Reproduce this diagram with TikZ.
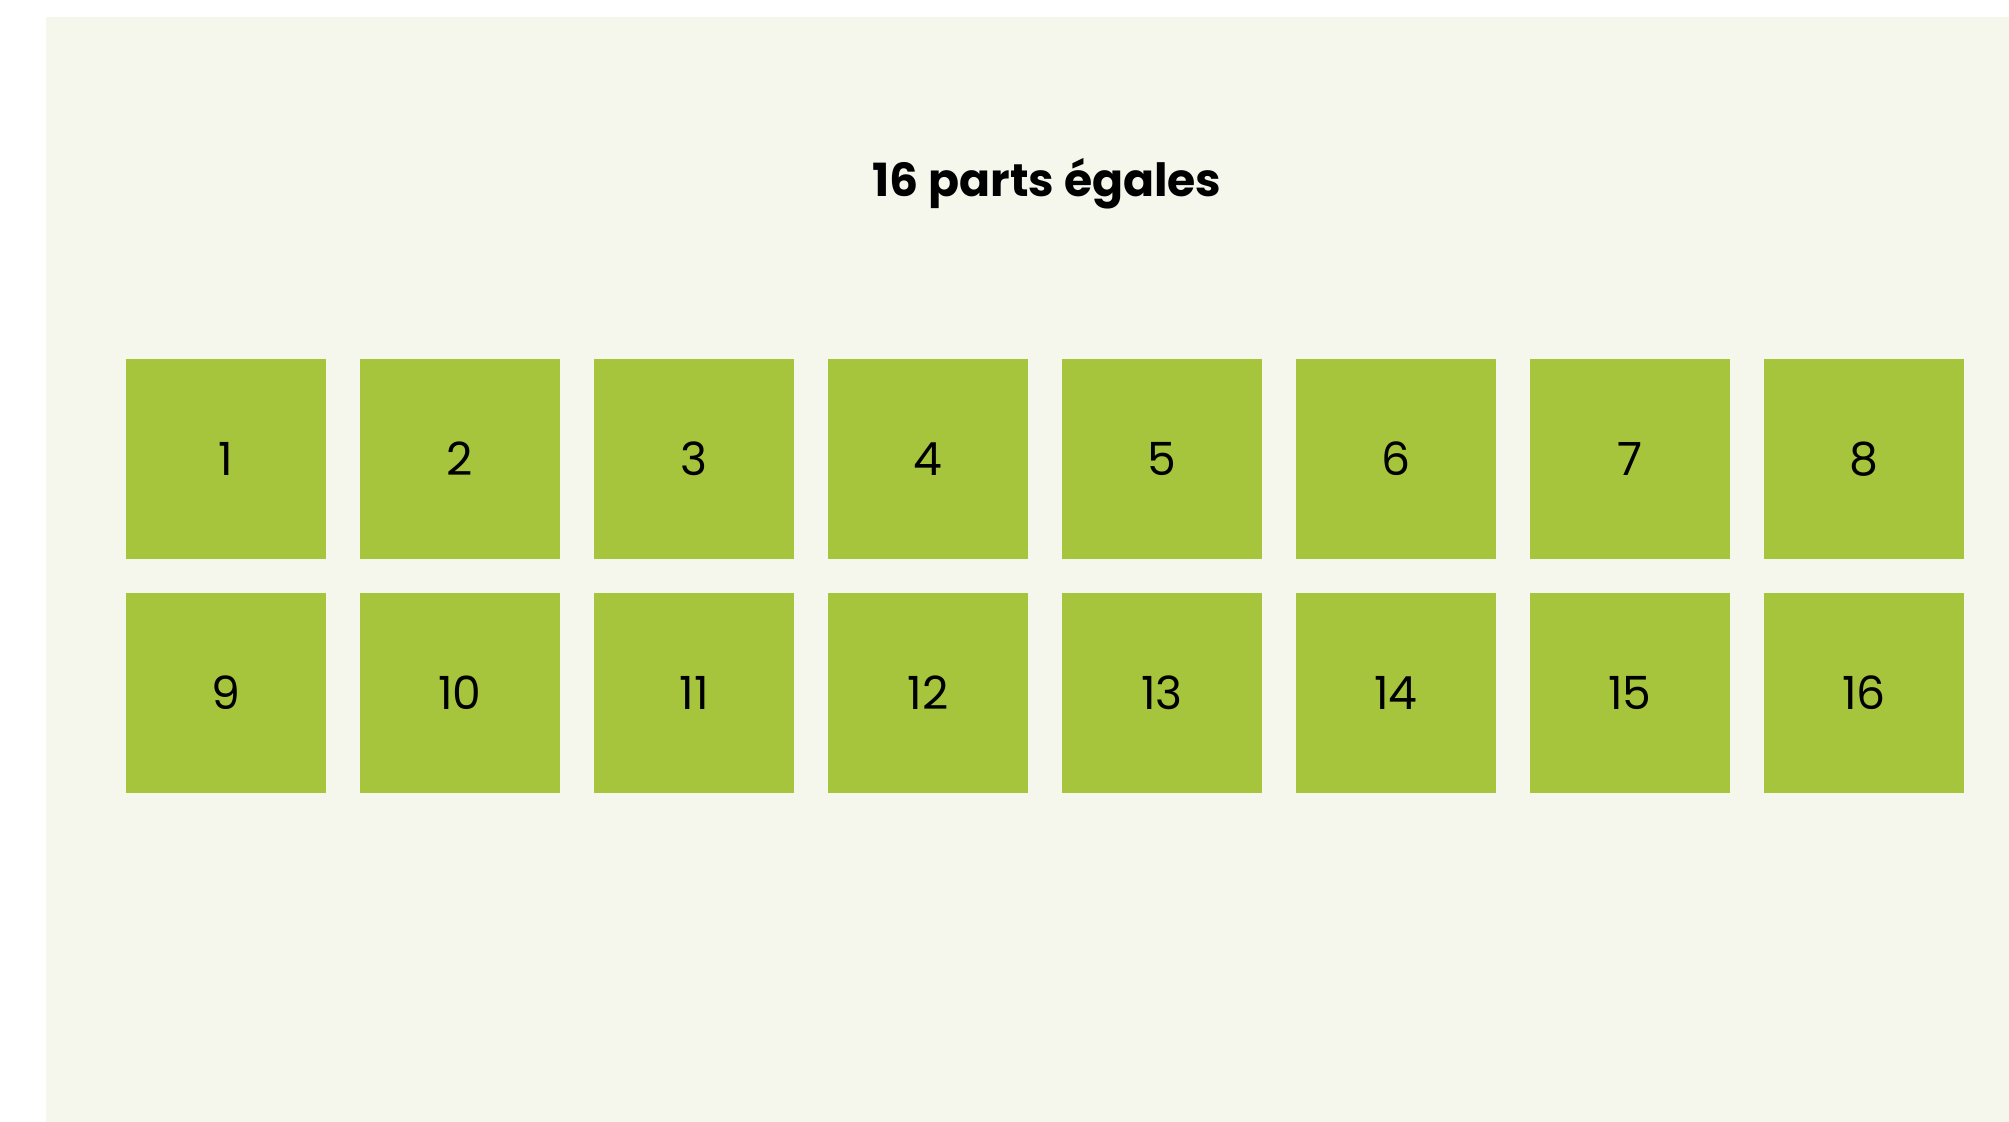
\documentclass[tikz,border=0pt]{standalone}
\usepackage{fontspec}
\setmainfont{Poppins}
\usepackage{xcolor}
\usetikzlibrary{positioning}
\definecolor{partgreen}{HTML}{A6C43C}
\definecolor{paper}{HTML}{F6F7EC}

\begin{document}
\begin{tikzpicture}[
  x=0.01cm, y=-0.01cm,
  part/.style={fill=partgreen, minimum size=2cm, inner sep=0pt,
    font=\fontsize{13}{15}\selectfont},
  heading/.style={font=\fontsize{13}{15}\selectfont\bfseries, anchor=base}
]
  \useasboundingbox (0,0) rectangle (2009,1122);
  \fill[paper] (46,17) rectangle (2009,1122);

  % Title
  \node[heading] (title) at (1047,197) {16 parts égales};

  % Top row
  \foreach \i in {1,...,8} {
    \node[part] (part\i) at ({226+(\i-1)*234}, 459) {\i};
  }
  % Bottom row
  \foreach \i in {1,...,8} {
    \pgfmathtruncatemacro\j{\i+8}
    \node[part] (part\j) at ({226+(\i-1)*234}, 693) {\j};
  }
\end{tikzpicture}
\end{document}
